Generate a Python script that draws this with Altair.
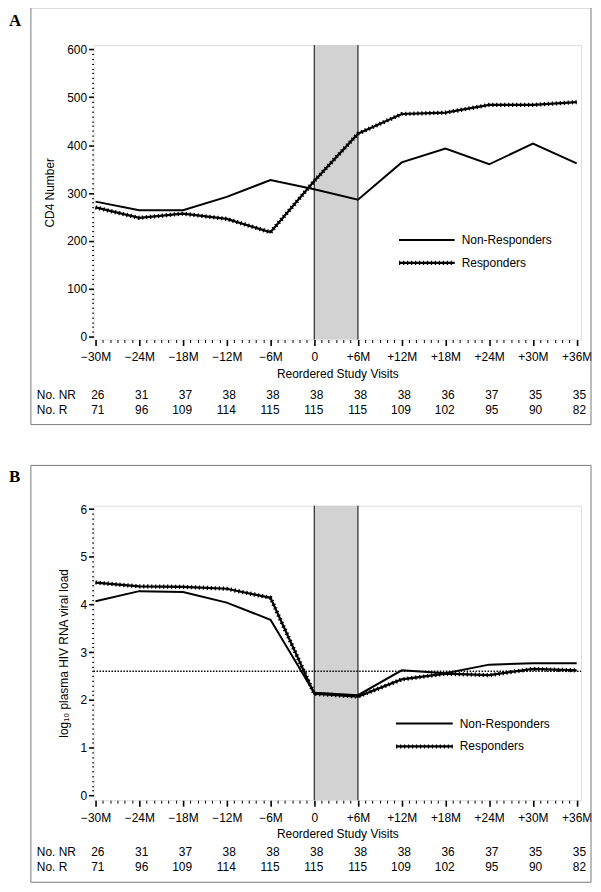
import altair as alt
import pandas as pd

# ---------------- data ----------------
visits = [-30, -24, -18, -12, -6, 0, 6, 12, 18, 24, 30, 36]
series = ["Non-Responders", "Responders"]
cd4_nr = [282, 264, 264, 292, 327, 308, 286, 364, 393, 360, 403, 362]
cd4_r = [270, 248, 257, 246, 218, 325, 424, 465, 468, 484, 484, 490]
vl_nr = [4.07, 4.28, 4.26, 4.04, 3.68, 2.15, 2.10, 2.62, 2.56, 2.74, 2.77, 2.77]
vl_r = [4.46, 4.38, 4.37, 4.33, 4.14, 2.13, 2.07, 2.43, 2.55, 2.52, 2.65, 2.62]
n_nr = [26, 31, 37, 38, 38, 38, 38, 38, 36, 37, 35, 35]
n_r = [71, 96, 109, 114, 115, 115, 115, 109, 102, 95, 90, 82]
shade_window = [0, 6]
threshold_b = 2.6
row_labels = ["No. NR", "No. R"]

# ---------------- layout ----------------
PLOT_W = 490
PLOT_H = 296
X_DOMAIN = [-30.27, 36.6]
FONT = "Liberation Sans"
SERIF = "Liberation Serif"
BEAD_W = 4.2
BEAD_DASH = [1.3, 2.7]


def x_axis():
    return alt.Axis(
        title="Reordered Study Visits",
        values=list(range(-30, 37)),
        labelExpr="datum.value % 6 !== 0 ? '' : (datum.value < 0 ? '\u2212' + abs(datum.value) + 'M' : (datum.value === 0 ? '0' : '+' + datum.value + 'M'))",
        labelOverlap=False,
        labelFont=FONT, labelFontSize=12, labelColor="black",
        labelPadding=6,
        tickSize={"condition": {"test": "datum.value % 6 === 0", "value": 6}, "value": 3},
        tickWidth={"condition": {"test": "datum.value % 6 === 0", "value": 1.6}, "value": 1},
        tickColor="black",
        domain=False, grid=False,
        titleFont=FONT, titleFontSize=12, titleFontWeight="normal", titleColor="black",
        titlePadding=6,
    )


def y_axis(title, values, major_test):
    return alt.Axis(
        title=title,
        values=values,
        labelExpr="(" + major_test + ") ? format(round(datum.value), 'd') : ''",
        labelOverlap=False,
        labelFont=FONT, labelFontSize=12, labelColor="black",
        labelPadding=2,
        tickSize={"condition": {"test": major_test, "value": 5}, "value": 2},
        tickWidth={"condition": {"test": major_test, "value": 1.6}, "value": 1},
        tickColor="black",
        domain=False, grid=False,
        titleFont=FONT, titleFontSize=12, titleFontWeight="normal", titleColor="black",
        titlePadding=10,
    )


def panel(letter, nr_vals, r_vals, y_domain, y_values, major_test, y_title, g, thresh=None):
    df = pd.DataFrame({
        "visit": visits * 2,
        "value": nr_vals + r_vals,
        "group": [series[0]] * len(visits) + [series[1]] * len(visits),
    })
    xs = alt.Scale(domain=X_DOMAIN, nice=False, zero=False)
    ys = alt.Scale(domain=y_domain, nice=False, zero=False)
    XA = x_axis()
    YA = y_axis(y_title, y_values, major_test)

    def X(f):
        return alt.X(f, type="quantitative", scale=xs, axis=XA)

    def Y(f):
        return alt.Y(f, type="quantitative", scale=ys, axis=YA)

    shade_df = pd.DataFrame({"start": [shade_window[0]], "end": [shade_window[1]]})
    edges_df = pd.DataFrame({"edge": shade_window})

    shade = alt.Chart(shade_df).mark_rect(fill="#d2d2d2").encode(
        x=X("start"), x2="end", y=alt.value(0), y2=alt.value(PLOT_H)
    )
    edges = alt.Chart(edges_df).mark_rule(color="black", strokeWidth=1).encode(
        x=X("edge"), y=alt.value(0), y2=alt.value(PLOT_H)
    )
    layers = [shade, edges]
    if thresh is not None:
        tdf = pd.DataFrame({"t": [thresh]})
        layers.append(
            alt.Chart(tdf).mark_rule(color="black", strokeWidth=1.4, strokeDash=[1.5, 1.5]).encode(
                y=Y("t"), x=alt.value(0), x2=alt.value(PLOT_W)
            )
        )
    nr_line = alt.Chart(df).transform_filter(alt.datum.group == series[0]).mark_line(
        color="black", strokeWidth=2
    ).encode(x=X("visit"), y=Y("value"))
    r_line = alt.Chart(df).transform_filter(alt.datum.group == series[1]).mark_line(
        color="black", strokeWidth=2.2
    ).encode(x=X("visit"), y=Y("value"))
    r_beads = alt.Chart(df).transform_filter(alt.datum.group == series[1]).mark_line(
        color="black", strokeWidth=BEAD_W, strokeDash=BEAD_DASH
    ).encode(x=X("visit"), y=Y("value"))
    layers += [nr_line, r_line, r_beads]
    inner = alt.layer(*layers)

    tbl = pd.DataFrame({"idx": list(range(len(visits))), "nr": n_nr, "r": n_r})
    tx = alt.X("idx:Q", scale=alt.Scale(domain=[0, len(visits) - 1], range=[11, 495]), axis=None)
    t_nr = alt.Chart(tbl).mark_text(align="right", baseline="middle", font=FONT, fontSize=12, color="black").encode(
        x=tx, y=alt.value(g["row1"]), text="nr:Q"
    )
    t_r = alt.Chart(tbl).mark_text(align="right", baseline="middle", font=FONT, fontSize=12, color="black").encode(
        x=tx, y=alt.value(g["row2"]), text="r:Q"
    )

    one = pd.DataFrame({"a": [0]})
    lab_nr = alt.Chart(one).mark_text(align="left", baseline="middle", font=FONT, fontSize=12, color="black",
                                      text=row_labels[0]).encode(x=alt.value(-57), y=alt.value(g["row1"]))
    lab_r = alt.Chart(one).mark_text(align="left", baseline="middle", font=FONT, fontSize=12, color="black",
                                     text=row_labels[1]).encode(x=alt.value(-57), y=alt.value(g["row2"]))
    frame = alt.Chart(one).mark_rect(fillOpacity=0, stroke="#7a7a7a", strokeWidth=1).encode(
        x=alt.value(-63), x2=alt.value(500), y=alt.value(g["ftop"]), y2=alt.value(g["fbot"])
    )
    letter_mark = alt.Chart(one).mark_text(align="left", baseline="top", font=SERIF, fontSize=17,
                                           fontWeight="bold", color="black", text=letter).encode(
        x=alt.value(-85), y=alt.value(g["letter"])
    )
    lg_nr = alt.Chart(one).mark_rule(color="black", strokeWidth=2).encode(
        x=alt.value(g["lx1"]), x2=alt.value(g["lx2"]), y=alt.value(g["ly1"])
    )
    lg_r1 = alt.Chart(one).mark_rule(color="black", strokeWidth=2.2).encode(
        x=alt.value(g["lx1"]), x2=alt.value(g["lx2"]), y=alt.value(g["ly2"])
    )
    lg_r2 = alt.Chart(one).mark_rule(color="black", strokeWidth=BEAD_W, strokeDash=BEAD_DASH).encode(
        x=alt.value(g["lx1"]), x2=alt.value(g["lx2"]), y=alt.value(g["ly2"])
    )
    lt_nr = alt.Chart(one).mark_text(align="left", baseline="middle", font=FONT, fontSize=12, color="black",
                                     text=series[0]).encode(x=alt.value(g["ltx"]), y=alt.value(g["ly1"]))
    lt_r = alt.Chart(one).mark_text(align="left", baseline="middle", font=FONT, fontSize=12, color="black",
                                    text=series[1]).encode(x=alt.value(g["ltx"]), y=alt.value(g["ly2"]))

    return alt.layer(
        inner, t_nr, t_r, lab_nr, lab_r, frame, letter_mark, lg_nr, lg_r1, lg_r2, lt_nr, lt_r
    ).resolve_scale(x="independent").properties(width=PLOT_W, height=PLOT_H)


geo_a = dict(ftop=-37.5, fbot=381.5, row1=351.5, row2=366.5, letter=-32,
             lx1=307, lx2=363, ltx=370, ly1=196, ly2=219)
geo_b = dict(ftop=-40.5, fbot=378.5, row1=348.5, row2=363.5, letter=-37,
             lx1=304, lx2=361, ltx=368, ly1=219, ly2=242)

panel_a = panel("A", cd4_nr, cd4_r, [-6, 609], list(range(0, 601, 10)),
                "datum.value % 100 === 0", "CD4 Number", geo_a)
panel_b = panel("B", vl_nr, vl_r, [-0.1, 6.07], [round(i * 0.1, 1) for i in range(61)],
                "abs(datum.value - round(datum.value)) < 0.001",
                "log\u2081\u2080 plasma HIV RNA viral load", geo_b, thresh=threshold_b)

chart = alt.vconcat(panel_a, panel_b, spacing=38).properties(
    padding={"top": -4, "left": 0, "right": 0, "bottom": 0}
).configure_view(
    stroke="black", strokeWidth=1
).configure(font=FONT)

chart.save("out.html", embed_options={"renderer": "svg", "actions": False})
